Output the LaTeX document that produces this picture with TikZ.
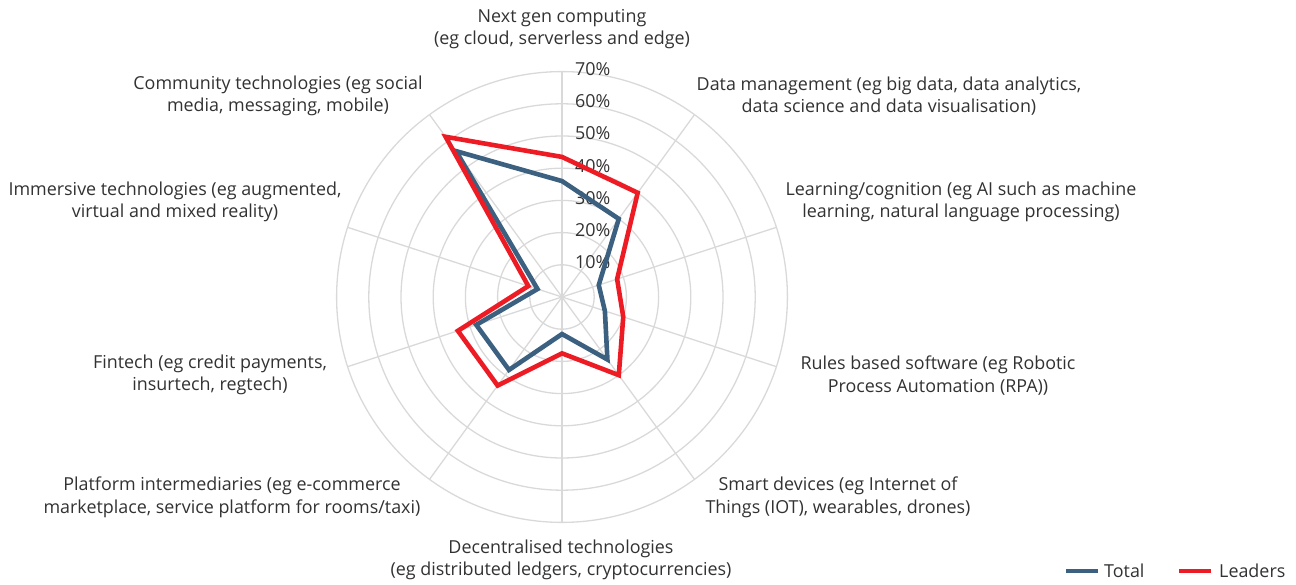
\documentclass[tikz,border=0pt]{standalone}
\usepackage{fontspec}
\setmainfont{Open Sans}
\usepackage{tikz}
\usetikzlibrary{calc, positioning}

\definecolor{totalblue}{RGB}{59,96,128}
\definecolor{leadred}{RGB}{237,28,36}
\definecolor{gridgray}{RGB}{217,217,217}
\definecolor{labelgray}{RGB}{50,50,50}

\tikzset{
  gridline/.style={draw=gridgray, line width=1.3pt},
  total/.style={draw=totalblue, line width=4.6pt},
  leaders/.style={draw=leadred, line width=4.6pt},
  catlabel/.style={align=center, text=labelgray, font=\fontsize{17.9}{22.5}\selectfont, inner sep=0pt},
  ticklabel/.style={anchor=west, text=labelgray, font=\fontsize{17.9}{20}\selectfont, inner sep=0pt},
}

\begin{document}
\begin{tikzpicture}[x=1pt, y=1pt]

\useasboundingbox (0,0) rectangle (1296,584);
\coordinate (c) at (562,287);

\foreach \r in {1,...,7} \path [gridline] (c) circle [radius=32.2*\r];
\foreach \i in {0,...,9} {
  \coordinate (s\i) at ($(c)+({90-36*\i}:225.4)$);
  \path [gridline] (c) -- (s\i);
}

\foreach \r in {1,...,7} \node [ticklabel] (tick\r) at ($(c)+(13,32.2*\r+2.5)$) {\r0\%};

\node [catlabel] (nextgen)   at (562,555) {Next gen computing\\(eg cloud, serverless and edge)};
\node [catlabel] (datamgmt)  at (889,488) {Data management (eg big data, data analytics,\\data science and data visualisation)};
\node [catlabel] (learning)  at (961,382) {Learning/cognition (eg AI such as machine\\learning, natural language processing)};
\node [catlabel] (rules)     at (938,208.5) {Rules based software (eg Robotic\\Process Automation (RPA))};
\node [catlabel] (smart)     at (838,86.5) {Smart devices (eg Internet of\\Things (IOT), wearables, drones)};
\node [catlabel] (decentral) at (561,24) {Decentralised technologies\\(eg distributed ledgers, cryptocurrencies)};
\node [catlabel] (platform)  at (232,86.5) {Platform intermediaries (eg e-commerce\\marketplace, service platform for rooms/taxi)};
\node [catlabel] (fintech)   at (210,209) {Fintech (eg credit payments,\\insurtech, regtech)};
\node [catlabel] (immersive) at (175,382) {Immersive technologies (eg augmented,\\virtual and mixed reality)};
\node [catlabel] (community) at (278,488) {Community technologies (eg social\\media, messaging, mobile)};

\foreach \v [count=\i] in {36,30,12,14,24,11.5,28,28,8,56}
  \coordinate (t\i) at ($(c)+({90-36*(\i-1)}:3.22*\v)$);
\foreach \v [count=\i] in {43.5,40,18,20,30,17.5,34,34,11,61.5}
  \coordinate (l\i) at ($(c)+({90-36*(\i-1)}:3.22*\v)$);

\path [total]   (t1) \foreach \i in {2,...,10} {-- (t\i)} -- cycle;
\path [leaders] (l1) \foreach \i in {2,...,10} {-- (l\i)} -- cycle;

\coordinate (tkeya) at (1066,13);
\coordinate (tkeyb) at (1098,13);
\coordinate (lkeya) at (1179,13);
\coordinate (lkeyb) at (1211,13);
\path [total, line width=3.6pt]   (tkeya) edge (tkeyb);
\path [leaders, line width=3.6pt] (lkeya) edge (lkeyb);
\node [ticklabel, right=6pt of tkeyb] (totalkey)   {Total};
\node [ticklabel, right=8pt of lkeyb] (leaderskey) {Leaders};

\end{tikzpicture}
\end{document}
